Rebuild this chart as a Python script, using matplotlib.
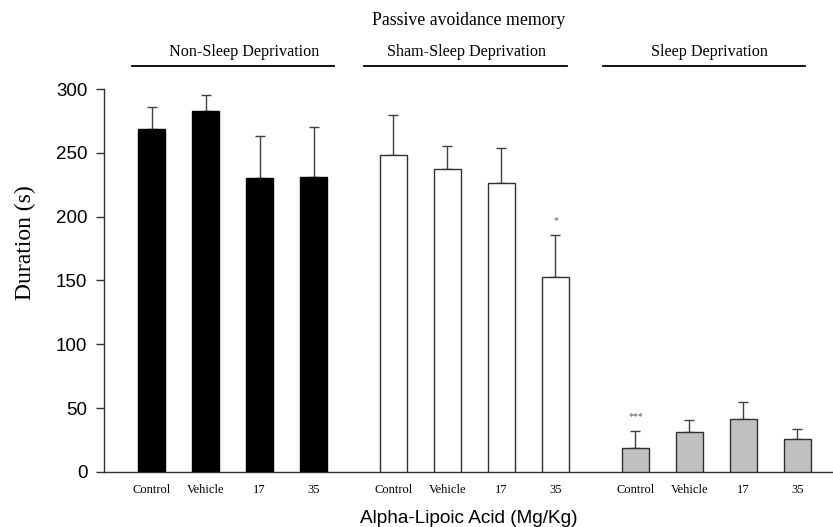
import numpy as np
import matplotlib.pyplot as plt

# Passive avoidance memory data
doses = ['Control', 'Vehicle', '17', '35']
groups = ['Non-Sleep Deprivation', 'Sham-Sleep Deprivation', 'Sleep Deprivation']
nsd_mean = [269, 283, 230, 231]
nsd_err = [17, 12, 33, 39]
sham_mean = [248, 237, 226, 153]
sham_err = [32, 18, 28, 33]
sd_mean = [19, 31, 41.5, 25.5]
sd_err = [13, 9.5, 13, 8]
stars = ['', '', '', '', '', '', '', '*', '***', '', '', '']

means = [nsd_mean, sham_mean, sd_mean]
errs = [nsd_err, sham_err, sd_err]
fills = ['black', 'white', '#c0c0c0']
edges = ['black', '#303030', '#303030']
# group bracket lines and label centres (x in bar units)
line_ext = [(-0.36, 3.38), (3.94, 7.69), (8.36, 12.10)]
label_x = [1.71, 5.84, 10.34]

fig = plt.figure(figsize=(8.33, 5.27), dpi=100)
ax = fig.add_axes([0.1249, 0.1044, 0.8751, 0.7267])

step = 4.48
width = 0.5
all_x = []
for g in range(3):
    x = np.arange(4) + g * step
    all_x.extend(x)
    ax.bar(x, means[g], width=width, color=fills[g], edgecolor=edges[g],
           linewidth=1.0, zorder=3)
    ax.errorbar(x, means[g], yerr=[np.zeros(4), errs[g]], fmt='none',
                ecolor='#404040', elinewidth=1.0, capsize=3.6, capthick=1.0,
                zorder=2)
    ax.plot(line_ext[g], [1.06, 1.06], color='black', lw=1.3,
            transform=ax.get_xaxis_transform(), clip_on=False)
    ax.text(label_x[g], 1.075, groups[g], ha='center', va='bottom',
            family='Liberation Serif', fontsize=11.6,
            transform=ax.get_xaxis_transform())

all_m = nsd_mean + sham_mean + sd_mean
all_e = nsd_err + sham_err + sd_err
for xi, m, e, s in zip(all_x, all_m, all_e, stars):
    if s:
        ax.text(xi, m + e + 11, s, ha='center', va='center', fontsize=7,
                family='Liberation Serif', color='#555555')

ax.set_xlim(-0.88, 12.62)
ax.set_ylim(0, 300)
ax.set_yticks(np.arange(0, 301, 50))
ax.set_xticks(all_x)
ax.set_xticklabels(doses * 3, family='Liberation Serif', fontsize=9)
ax.tick_params(axis='x', length=0, pad=9)
ax.tick_params(axis='y', direction='out', length=6, width=1, color='#303030',
               labelsize=13.5, pad=6)
for lab in ax.get_yticklabels():
    lab.set_family('Liberation Sans')

for sp in ['top', 'right']:
    ax.spines[sp].set_visible(False)
for sp in ['left', 'bottom']:
    ax.spines[sp].set_color('#303030')
    ax.spines[sp].set_linewidth(1.0)

ax.set_ylabel('Duration (s)', family='Liberation Serif', fontsize=17)
ax.yaxis.set_label_coords(-0.093, 0.60)
ax.set_xlabel('Alpha-Lipoic Acid (Mg/Kg)', family='Liberation Sans', fontsize=13.7,
              labelpad=10)
fig.text(0.5625, 0.962, 'Passive avoidance memory', ha='center', va='center',
         family='Liberation Serif', fontsize=12.8)

plt.savefig('out.png', dpi=100)
